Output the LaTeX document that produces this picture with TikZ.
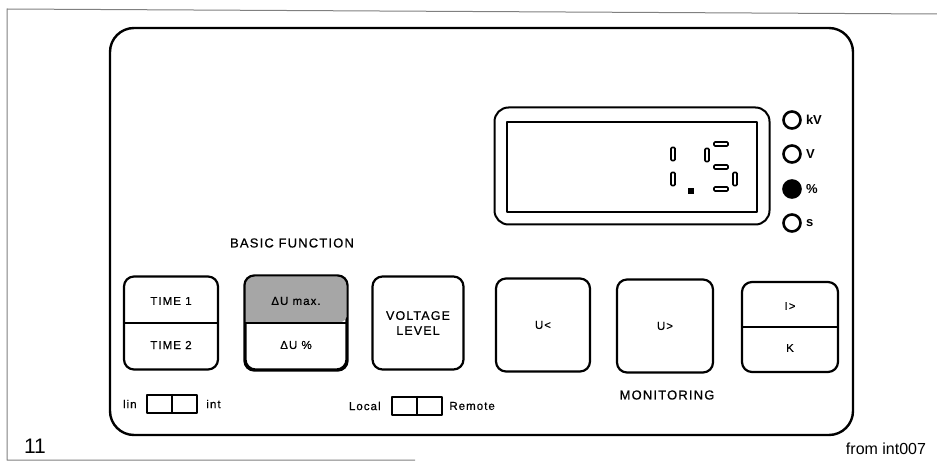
\documentclass[tikz,border=0pt]{standalone}
\usepackage{fontspec}
\setmainfont{Liberation Sans}
\newfontfamily\panelfont[LetterSpace=9, FakeBold=0.6]{Liberation Sans}
\usetikzlibrary{positioning}

\tikzset{
  panel/.style={line width=2.4pt, rounded corners=24pt},
  key/.style={draw, line width=2.2pt, rounded corners=10pt, minimum width=94pt,
    minimum height=93pt, inner sep=0pt},
  keylabel/.style={font=\panelfont\fontsize{11.5}{13.5}\selectfont, align=center, inner sep=1pt},
  caption/.style={font=\panelfont\fontsize{13}{15}\selectfont, inner sep=1pt},
  vseg/.style={draw, line width=1.7pt, rounded corners=1pt, minimum width=4pt,
    minimum height=13pt, inner sep=0pt},
  hseg/.style={draw, line width=1.7pt, rounded corners=1pt, minimum width=14pt,
    minimum height=4pt, inner sep=0pt},
  lamp/.style={circle, draw, line width=2.6pt, minimum size=17pt, inner sep=0pt},
  lamplabel/.style={font=\bfseries\fontsize{13}{15}\selectfont, inner sep=0pt},
  switchbox/.style={draw, line width=2.4pt, minimum width=50pt, minimum height=18pt, inner sep=0pt}
}

\begin{document}
\begin{tikzpicture}[x=1pt, y=-1pt, line join=round]
\useasboundingbox (0,0) rectangle (937,462);
% frame of the figure
\draw[gray, line width=1pt] (937,14) -- (7,9) -- (7,460) -- (415,460);
% front panel
\draw[panel] (110,28) rectangle (853,435);

% display
\node[draw, line width=2pt, rounded corners=14pt, minimum width=275pt, minimum height=117pt] (disp) at (632,166) {};
\node[draw, line width=2.6pt, minimum width=250pt, minimum height=90pt] (window) at (632,167) {};
\foreach \n/\x/\y in {s1/673/154, s2/673/179, s3/707/155, s4/735/179}
  \node[vseg] (\n) at (\x,\y) {};
\foreach \n/\x/\y in {s5/721/144, s6/721/167, s7/721/189}
  \node[hseg] (\n) at (\x,\y) {};
\node[fill, minimum size=6pt, inner sep=0pt] (dp) at (691,191) {};

% unit lamps
\foreach \i/\y/\f/\t in {1/120/white/kV, 2/154/white/V, 3/189/black/\%, 4/223/white/s}{
  \node[lamp, fill=\f] (lamp\i) at (792,\y) {};
  \node[lamplabel, right=4pt of lamp\i] (unit\i) {\t};
}

% keys
\node[caption] (basic) at (292,243) {BASIC FUNCTION};
\node[key] (time) at (171,323) {};
\draw[line width=2pt] (time.west) -- (time.east);
\node[keylabel] (time1) at ([yshift=22pt]time.center) {TIME 1};
\node[keylabel] (time2) at ([yshift=-22pt]time.center) {TIME 2};

\node[key, minimum width=101pt] (du) at (296,323) {};
\fill[black!35] (du.west) [rounded corners=10pt] |- (du.north) -| (du.east) [sharp corners] -- cycle;
\draw[line width=2.2pt, rounded corners=10pt] (du.north west) rectangle (du.south east);
\draw[line width=2pt] (du.west) -- (du.east);
\node[keylabel] (dumax) at ([yshift=22pt]du.center) {ΔU max.};
\node[keylabel] (duper) at ([yshift=-22pt]du.center) {ΔU \%};

\node[key, minimum width=91pt] (volt) at (418,323) {};
\node[keylabel, font=\panelfont\fontsize{12.5}{15}\selectfont] (voltlabel) at (volt) {VOLTAGE\\LEVEL};

\node[key] (ulow) at (543,325) {};
\node[keylabel] (ulowlabel) at (ulow) {U<};
\node[key, minimum width=96pt] (uhigh) at (665,326) {};
\node[keylabel] (uhighlabel) at (uhigh) {U>};
\node[key, minimum width=96pt, minimum height=90pt] (ik) at (790,327) {};
\draw[line width=2pt] (ik.west) -- (ik.east);
\node[keylabel] (ilabel) at ([yshift=21pt]ik.center) {I>};
\node[keylabel] (klabel) at ([yshift=-21pt]ik.center) {K};
\node[caption] (monitor) at (667,395) {MONITORING};

% switches
\node[switchbox] (sw1) at (172,404) {};
\draw[line width=2.2pt] (sw1.north) -- (sw1.south);
\node[keylabel, left=8pt of sw1] (lin) {lin};
\node[keylabel, right=7pt of sw1] (int) {int};
\node[switchbox] (sw2) at (417,406) {};
\draw[line width=2.2pt] (sw2.north) -- (sw2.south);
\node[keylabel, left=9pt of sw2] (local) {Local};
\node[keylabel, right=5pt of sw2] (remote) {Remote};

% figure number and source
\node[font=\fontsize{21}{24}\selectfont, inner sep=0pt] (fignum) at (35,446) {11};
\node[font=\fontsize{16}{18}\selectfont, inner sep=0pt] (source) at (886,449) {from int007};
\end{tikzpicture}
\end{document}
